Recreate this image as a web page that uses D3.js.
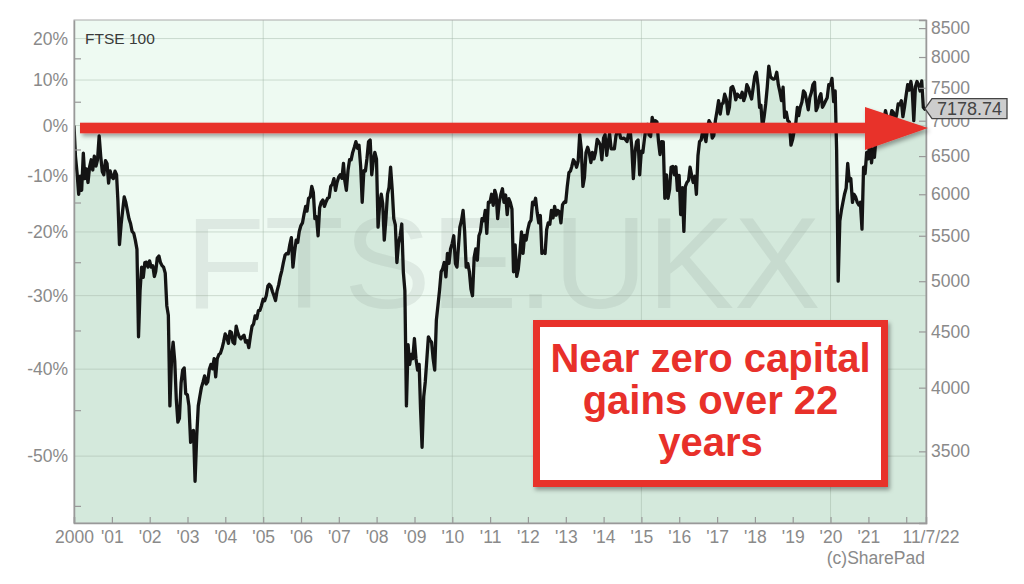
<!DOCTYPE html>
<html><head><meta charset="utf-8">
<script src="https://cdn.jsdelivr.net/npm/d3@7"></script>
<style>
body{margin:0;background:#fff;}
svg{display:block;font-family:"Liberation Sans",Arial,sans-serif;}
</style>
</head><body>
<svg id="c" width="1024" height="584"></svg>
<script>
// ---------------- data ----------------
const baseValue = 6930.2;          // level of 0% line (start of 2000)
const startDate = "2000-01-01";
const endDate = "2022-07-11";
const lastValue = 7178.74;
// FTSE 100 levels: two per month (mid-month, month-end), Jan 2000 .. Jun 2022
const semiMonthlyCloses = [
  // 2000
  6500,6268, 6000,6232, 6050,6540, 6200,6327, 6150,6359, 6450,6313, 6500,6365, 6450,6780, 6500,6294, 6250,6438, 6400,6142, 6300,6222,
  // 2001
  6200,6297, 6250,5918, 5400,5634, 5800,5967, 5900,5796, 5700,5643, 5550,5529, 5450,5345, 4450,4903, 5150,5040, 5200,5204, 5150,5217,
  // 2002
  5150,5165, 5050,5101, 5250,5272, 5200,5166, 5150,5086, 4750,4656, 3850,4246, 4400,4227, 3900,3722, 3750,4039, 4150,4169, 3950,3940,
  // 2003
  3850,3567, 3650,3656, 3287,3613, 3850,3926, 4000,4048, 4100,4031, 4050,4157, 4200,4161, 4250,4091, 4250,4288, 4300,4342, 4400,4477,
  // 2004
  4450,4390, 4500,4492, 4400,4386, 4550,4489, 4450,4431, 4450,4464, 4400,4413, 4350,4459, 4550,4571, 4650,4624, 4700,4703, 4750,4814,
  // 2005
  4800,4852, 4950,4968, 4950,4894, 4850,4801, 4900,4964, 5050,5113, 5200,5282, 5300,5296, 5400,5478, 5150,5317, 5450,5423, 5550,5619,
  // 2006
  5650,5760, 5850,5792, 5950,5965, 6100,6023, 5700,5723, 5500,5833, 5900,5928, 5850,5906, 5950,5961, 6100,6129, 6200,6048, 6150,6221,
  // 2007
  6250,6203, 6400,6172, 6050,6308, 6450,6449, 6550,6621, 6700,6608, 6650,6360, 5900,6303, 6300,6467, 6700,6722, 6250,6432, 6550,6457,
  // 2008
  5600,5880, 6000,5884, 5450,5702, 6000,6087, 6350,6053, 5700,5626, 5200,5412, 5500,5637, 5100,4902, 3850,4377, 4200,4288, 4250,4434,
  // 2009
  4250,4149, 4200,3830, 3530,3926, 4050,4244, 4450,4418, 4400,4249, 4150,4608, 4750,4909, 5100,5134, 5200,5045, 5300,5191, 5350,5413,
  // 2010
  5500,5189, 5150,5355, 5600,5680, 5800,5553, 5150,5188, 5100,4917, 4850,5258, 5350,5225, 5500,5549, 5700,5675, 5800,5528, 5900,5900,
  // 2011
  6000,5863, 6050,5994, 5700,5909, 6000,6070, 5900,5990, 5750,5946, 5900,5815, 5100,5395, 5050,5128, 5300,5544, 5300,5505, 5450,5572,
  // 2012
  5650,5682, 5900,5872, 5950,5768, 5650,5738, 5300,5321, 5300,5571, 5650,5635, 5800,5711, 5850,5742, 5800,5783, 5650,5867, 5900,5898,
  // 2013
  6100,6277, 6300,6361, 6450,6412, 6350,6430, 6800,6583, 6100,6215, 6550,6621, 6550,6413, 6550,6462, 6550,6731, 6700,6651, 6450,6749,
  // 2014
  6800,6510, 6700,6810, 6600,6598, 6600,6780, 6850,6845, 6750,6744, 6750,6730, 6700,6820, 6850,6623, 6200,6546, 6700,6723, 6250,6566,
  // 2015
  6550,6749, 6900,6947, 6800,6773, 7050,6961, 7000,6984, 6700,6521, 6700,6696, 5950,6248, 5950,6062, 6350,6361, 6250,6356, 6050,6242,
  // 2016
  5750,6084, 5550,6097, 6150,6175, 6350,6242, 6150,6231, 6000,6504, 6700,6724, 6850,6782, 6700,6899, 7000,6954, 6750,6784, 7000,7143,
  // 2017
  7300,7099, 7250,7263, 7400,7323, 7100,7204, 7500,7520, 7450,7313, 7400,7372, 7350,7431, 7300,7373, 7550,7493, 7400,7327, 7500,7688,
  // 2018
  7750,7534, 7200,7232, 6900,7057, 7250,7509, 7850,7678, 7650,7637, 7650,7749, 7550,7432, 7300,7510, 7050,7128, 7000,6980, 6650,6728,
  // 2019
  6850,6969, 7200,7075, 7200,7279, 7450,7418, 7300,7162, 7350,7426, 7550,7587, 7150,7207, 7350,7408, 7200,7248, 7300,7347, 7550,7542,
  // 2020
  7650,7286, 7450,6581, 5000,5672, 5800,5901, 6000,6077, 6400,6170, 6200,5898, 6000,5964, 5900,5866, 5900,5577, 6350,6266, 6550,6461,
  // 2021
  6750,6407, 6600,6483, 6750,6714, 6950,6970, 7050,7023, 7150,7037, 7000,7032, 7150,7120, 7000,7086, 7250,7238, 7300,7059, 7200,7385,
  // 2022 (Jan..Jun)
  7550,7464, 7600,7458, 7000,7516, 7600,7545, 7450,7608, 7200,7169
];
const yearLabels = ["2000","'01","'02","'03","'04","'05","'06","'07","'08","'09","'10",
                    "'11","'12","'13","'14","'15","'16","'17","'18","'19","'20","'21",""];
const gridYears = [2005, 2010, 2015, 2020];
const pctMajor = [20, 10, 0, -10, -20, -30, -40, -50];
const pctMinor = [15, 5, -5, -15, -25, -35, -45, -55];
const priceTicks = [3500, 4000, 4500, 5000, 5500, 6000, 6500, 7000, 7500, 8000, 8500];
const endLabel = "11/7/22";
const seriesLabel = "FTSE 100";
const watermark = "FTSE.UKX";
const credit = "(c)SharePad";
const annotationLines = ["Near zero capital", "gains over 22", "years"];

// ---------------- build series ----------------
const parse = d3.timeParse("%Y-%m-%d");
const series = [{date: parse(startDate), value: baseValue}];
semiMonthlyCloses.forEach((v, i) => {
  const m = Math.floor(i / 2);
  const yr = 2000 + Math.floor(m / 12), mo = m % 12;
  const date = (i % 2 === 0) ? new Date(yr, mo, 15) : new Date(yr, mo + 1, 0);
  series.push({date, value: v});
});
series.push({date: parse(endDate), value: lastValue});

// ---------------- layout ----------------
const L = 74, R = 926, T = 20, B = 523;
const svg = d3.select("#c");
const x = d3.scaleTime().domain([parse(startDate), parse(endDate)]).range([L, R]);
const y0pix = 125.5, k = 477;
const y = d3.scaleLog()
  .domain([baseValue * Math.exp(-(B - y0pix) / k), baseValue * Math.exp((y0pix - T) / k)])
  .range([B, T]);
const pctVal = p => baseValue * (1 + p / 100);

const defs = svg.append("defs");
const f = defs.append("filter").attr("id", "sh").attr("x", "-10%").attr("y", "-30%").attr("width", "130%").attr("height", "180%");
f.append("feDropShadow").attr("dx", 2).attr("dy", 3).attr("stdDeviation", 2).attr("flood-color", "#000").attr("flood-opacity", 0.35);
defs.append("clipPath").attr("id", "plotclip").append("rect").attr("x", L).attr("y", T).attr("width", R - L).attr("height", B - T);

// background
svg.append("rect").attr("x", L).attr("y", T).attr("width", R - L).attr("height", B - T).attr("fill", "#eefaf2");

const plot = svg.append("g").attr("clip-path", "url(#plotclip)");
// area under line
plot.append("path").datum(series)
  .attr("d", d3.area().x(d => x(d.date)).y0(B).y1(d => y(d.value)))
  .attr("fill", "#d4e9dc");

// gridlines
plot.append("g").selectAll("line").data(pctMajor).join("line")
  .attr("x1", L).attr("x2", R).attr("y1", d => y(pctVal(d))).attr("y2", d => y(pctVal(d)))
  .attr("stroke", "#9fb3a5").attr("stroke-opacity", 0.45).attr("stroke-width", 1);
plot.append("g").selectAll("line").data(gridYears).join("line")
  .attr("x1", d => x(new Date(d, 0, 1))).attr("x2", d => x(new Date(d, 0, 1)))
  .attr("y1", T).attr("y2", B)
  .attr("stroke", "#9fb3a5").attr("stroke-opacity", 0.45).attr("stroke-width", 1);

// watermark
plot.append("text").attr("x", 503).attr("y", 308).attr("text-anchor", "middle")
  .attr("font-size", 130).attr("fill", "#7f8a84").attr("fill-opacity", 0.15).text(watermark);

// line
plot.append("path").datum(series)
  .attr("d", d3.line().x(d => x(d.date)).y(d => y(d.value)))
  .attr("fill", "none").attr("stroke", "#141414").attr("stroke-width", 3.3).attr("stroke-linejoin", "round");

// frame
svg.append("rect").attr("x", L).attr("y", T).attr("width", R - L).attr("height", B - T)
  .attr("fill", "none").attr("stroke", "#aaa").attr("stroke-width", 1);

const axisColor = "#999", labelColor = "#8a8a8a", fs = 17.5;

// left axis (percent)
const left = svg.append("g").attr("transform", `translate(${L},0)`)
  .call(d3.axisLeft(y).tickValues(pctMajor.map(pctVal)).tickSize(0).tickPadding(6)
    .tickFormat(v => Math.round((v / baseValue - 1) * 100) + "%"));
left.select(".domain").attr("stroke", axisColor).attr("stroke-width", 1.5);
left.selectAll("text").attr("fill", labelColor).attr("font-size", fs).attr("font-family", "Liberation Sans, Arial, sans-serif");
svg.append("g").selectAll("line").data(pctMinor).join("line")
  .attr("x1", L).attr("x2", L + 7).attr("y1", d => y(pctVal(d))).attr("y2", d => y(pctVal(d)))
  .attr("stroke", axisColor).attr("stroke-width", 1.2);

// right axis (price)
const right = svg.append("g").attr("transform", `translate(${R},0)`)
  .call(d3.axisRight(y).tickValues(priceTicks).tickSize(-7).tickPadding(5).tickFormat(d3.format("d")));
right.select(".domain").attr("stroke", axisColor).attr("stroke-width", 1.5);
right.selectAll(".tick line").attr("stroke", axisColor).attr("stroke-width", 1.2);
right.selectAll("text").attr("fill", labelColor).attr("font-size", fs).attr("font-family", "Liberation Sans, Arial, sans-serif");

// bottom axis (years)
const yearDates = yearLabels.map((_, i) => new Date(2000 + i, 0, 1));
const bottom = svg.append("g").attr("transform", `translate(0,${B})`)
  .call(d3.axisBottom(x).tickValues(yearDates).tickSize(-6).tickPadding(8)
    .tickFormat((d, i) => yearLabels[i]));
bottom.select(".domain").attr("stroke", axisColor).attr("stroke-width", 1.5);
bottom.selectAll(".tick line").attr("stroke", axisColor).attr("stroke-width", 1.2);
bottom.selectAll("text").attr("fill", labelColor).attr("font-size", fs).attr("font-family", "Liberation Sans, Arial, sans-serif");
svg.append("text").attr("x", x(parse(endDate)) + 5).attr("y", 543).attr("text-anchor", "middle")
  .attr("fill", labelColor).attr("font-size", fs).text(endLabel);
svg.append("text").attr("x", 925).attr("y", 564).attr("text-anchor", "end")
  .attr("fill", labelColor).attr("font-size", fs).text(credit);

// series label
svg.append("text").attr("x", 85).attr("y", 44).attr("fill", "#3a3a3a").attr("font-size", 15.5).text(seriesLabel);

// red arrow at the 0% level
const ay = y(baseValue) + 2.5;
const arrow = svg.append("g").attr("filter", "url(#sh)");
arrow.append("rect").attr("x", 80).attr("y", ay - 5.3).attr("width", 800).attr("height", 10.6).attr("fill", "#e8302a");
arrow.append("path").attr("d", `M865,${ay - 21}L928,${ay}L865,${ay + 22}Z`).attr("fill", "#e8302a");

// last price label
const py = y(lastValue);
svg.append("path").attr("d", `M925,${py}L932,${py - 10}L1007,${py - 10}L1007,${py + 10}L932,${py + 10}Z`)
  .attr("fill", "#cdcdcd").attr("stroke", "#444").attr("stroke-width", 1.3);
svg.append("text").attr("x", 969.5).attr("y", py + 6).attr("text-anchor", "middle")
  .attr("fill", "#444").attr("font-size", 18).text(d3.format(".2f")(lastValue));

// annotation box
const box = svg.append("g");
box.append("rect").attr("x", 536.5).attr("y", 323.5).attr("width", 348).attr("height", 160)
  .attr("fill", "#fff").attr("stroke", "#e8302a").attr("stroke-width", 7).attr("filter", "url(#sh)");
box.selectAll("text").data(annotationLines).join("text")
  .attr("x", 710.5).attr("y", (d, i) => 372 + i * 42).attr("text-anchor", "middle")
  .attr("fill", "#e8302a").attr("font-weight", "bold").attr("font-size", 40).text(d => d);
</script>
</body></html>
